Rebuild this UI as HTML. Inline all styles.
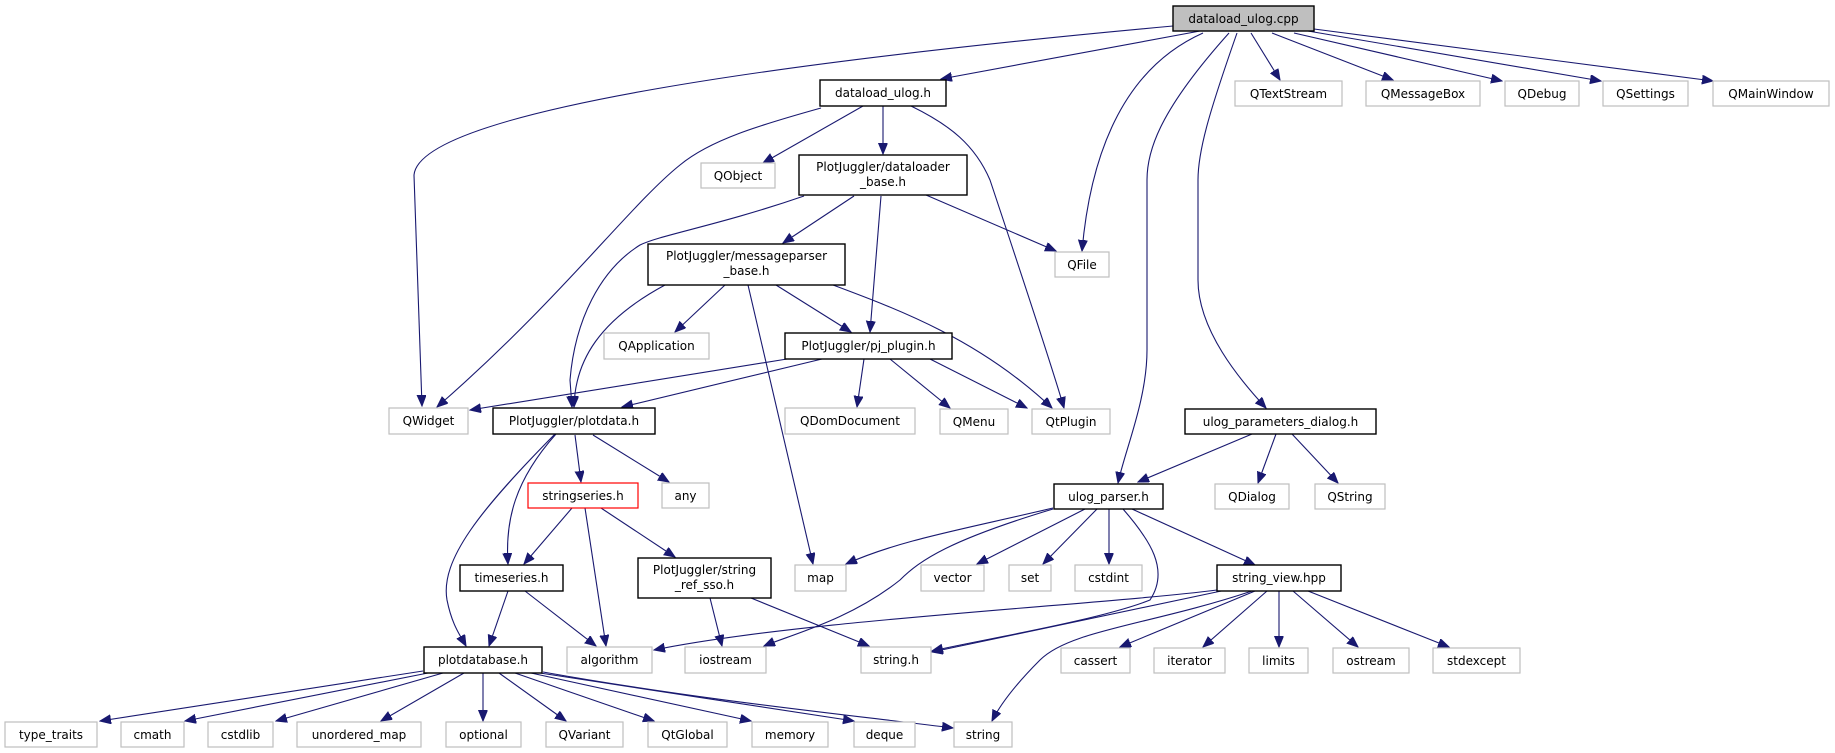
<!DOCTYPE html>
<html><head><meta charset="utf-8"><style>
html,body{margin:0;padding:0;background:#fff;}
svg{display:block;}
text{font-family:"DejaVu Sans","Liberation Sans",sans-serif;font-size:12px;fill:#000;}
.e{fill:none;stroke:#191970;stroke-width:1.1;}
.g{fill:#fff;stroke:#bfbfbf;stroke-width:1.2;}
.b{fill:#fff;stroke:#000;stroke-width:1.4;}
</style></head><body>
<svg width="1835" height="753" viewBox="0 0 1835 753" xmlns="http://www.w3.org/2000/svg">
<defs>
<marker id="a" markerUnits="userSpaceOnUse" markerWidth="12" markerHeight="10" refX="11" refY="4.5" orient="auto">
<path d="M0,0 L11,4.5 L0,9 Z" fill="#191970" stroke="#191970"/>
</marker>
</defs>
<g marker-end="url(#a)">
<!-- from cpp -->
<path class="e" d="M1173,26 C800,60 420,110 414,175 L422,406"/>
<path class="e" d="M1200,31 L941,79"/>
<path class="e" d="M1203,33 C1120,70 1090,160 1082,251"/>
<path class="e" d="M1229,33 C1160,110 1147,150 1147,180 L1147,350 C1147,400 1125,450 1118,483"/>
<path class="e" d="M1237,33 C1210,110 1198,150 1198,180 L1198,280 C1198,330 1240,380 1266,408"/>
<path class="e" d="M1251,33 L1280,80"/>
<path class="e" d="M1272,33 L1393,80"/>
<path class="e" d="M1294,33 L1502,81"/>
<path class="e" d="M1302,30 L1601,81"/>
<path class="e" d="M1314,29 L1713,81"/>
<!-- dataload_ulog.h -->
<path class="e" d="M821,108 C760,125 710,140 680,165 C630,205 560,300 437,407"/>
<path class="e" d="M863,106 L763,163"/>
<path class="e" d="M883,106 L883,154"/>
<path class="e" d="M911,106 C950,125 975,145 990,180 C1010,240 1050,360 1064,408"/>
<!-- dataloader_base.h -->
<path class="e" d="M804,196 C720,225 660,235 640,245 C600,270 575,320 570,380 L572,407"/>
<path class="e" d="M854,196 L783,243"/>
<path class="e" d="M881,196 L870,332"/>
<path class="e" d="M926,195 L1056,251"/>
<!-- messageparser_base.h -->
<path class="e" d="M665,285 C600,320 575,360 574,407"/>
<path class="e" d="M725,285 L675,332"/>
<path class="e" d="M748,285 L813,564"/>
<path class="e" d="M776,285 L851,332"/>
<path class="e" d="M833,285 C900,310 980,340 1052,408"/>
<!-- pj_plugin.h -->
<path class="e" d="M787,359 L470,410"/>
<path class="e" d="M822,359 L622,407"/>
<path class="e" d="M864,359 L857,407"/>
<path class="e" d="M890,359 L950,408"/>
<path class="e" d="M930,359 L1027,408"/>
<!-- plotdata.h -->
<path class="e" d="M555,434 C480,510 440,560 447,600 C452,625 460,635 466,646"/>
<path class="e" d="M556,434 C515,480 505,520 508,564"/>
<path class="e" d="M575,435 L581,482"/>
<path class="e" d="M593,435 L669,482"/>
<!-- stringseries.h -->
<path class="e" d="M572,508 L524,564"/>
<path class="e" d="M585,508 L606,646"/>
<path class="e" d="M601,508 L675,557"/>
<!-- timeseries.h -->
<path class="e" d="M508,591 L489,646"/>
<path class="e" d="M525,591 L596,646"/>
<!-- string_ref_sso.h -->
<path class="e" d="M710,598 L722,646"/>
<path class="e" d="M751,598 L869,646"/>
<!-- plotdatabase.h -->
<path class="e" d="M423,671 L100,721"/>
<path class="e" d="M428,673 L185,721"/>
<path class="e" d="M443,673 L276,721"/>
<path class="e" d="M464,673 L381,721"/>
<path class="e" d="M483,673 L483,721"/>
<path class="e" d="M499,673 L566,721"/>
<path class="e" d="M515,673 L654,721"/>
<path class="e" d="M531,673 L751,721"/>
<path class="e" d="M540,673 L854,721"/>
<path class="e" d="M543,672 C700,700 850,715 953,728"/>
<!-- ulog_parameters_dialog.h -->
<path class="e" d="M1252,434 L1138,482"/>
<path class="e" d="M1276,434 L1258,483"/>
<path class="e" d="M1292,434 L1338,483"/>
<!-- ulog_parser.h -->
<path class="e" d="M1053,508 C960,530 900,540 846,564"/>
<path class="e" d="M1053,509 C950,540 920,560 900,580 C850,620 790,635 764,646"/>
<path class="e" d="M1085,509 L977,564"/>
<path class="e" d="M1097,509 L1043,564"/>
<path class="e" d="M1109,509 L1109,564"/>
<path class="e" d="M1123,509 C1150,540 1170,570 1150,600 C1100,620 980,640 932,651"/>
<path class="e" d="M1132,509 L1255,565"/>
<!-- string_view.hpp -->
<path class="e" d="M1217,590 C1100,605 800,620 654,650"/>
<path class="e" d="M1226,590 L932,652"/>
<path class="e" d="M1252,591 C1150,625 1070,630 1040,660 C1015,685 1000,705 992,721"/>
<path class="e" d="M1255,591 L1120,647"/>
<path class="e" d="M1267,591 L1203,647"/>
<path class="e" d="M1279,591 L1279,647"/>
<path class="e" d="M1293,591 L1358,647"/>
<path class="e" d="M1308,591 L1449,647"/>
</g>

<!-- nodes -->
<rect x="1173" y="6" width="141" height="25" fill="#bfbfbf" stroke="#000" stroke-width="1.4"/><text x="1243.5" y="23" text-anchor="middle">dataload_ulog.cpp</text>

<rect class="b" x="820" y="80" width="126" height="26"/><text x="883" y="97" text-anchor="middle">dataload_ulog.h</text>
<rect class="g" x="1235" y="81" width="107" height="25"/><text x="1288.5" y="98" text-anchor="middle">QTextStream</text>
<rect class="g" x="1366" y="81" width="114" height="25"/><text x="1423" y="98" text-anchor="middle">QMessageBox</text>
<rect class="g" x="1505" y="81" width="74" height="25"/><text x="1542" y="98" text-anchor="middle">QDebug</text>
<rect class="g" x="1603" y="81" width="85" height="25"/><text x="1645.5" y="98" text-anchor="middle">QSettings</text>
<rect class="g" x="1713" y="81" width="116" height="25"/><text x="1771" y="98" text-anchor="middle">QMainWindow</text>

<rect class="g" x="701" y="163" width="74" height="25"/><text x="738" y="180" text-anchor="middle">QObject</text>
<rect class="b" x="799" y="155" width="168" height="40"/><text x="883" y="171" text-anchor="middle">PlotJuggler/dataloader</text><text x="883" y="186" text-anchor="middle">_base.h</text>

<rect class="b" x="648" y="244" width="197" height="41"/><text x="746.5" y="260" text-anchor="middle">PlotJuggler/messageparser</text><text x="746.5" y="275" text-anchor="middle">_base.h</text>
<rect class="g" x="1055" y="252" width="54" height="25"/><text x="1082" y="269" text-anchor="middle">QFile</text>

<rect class="g" x="604" y="333" width="105" height="26"/><text x="656.5" y="350" text-anchor="middle">QApplication</text>
<rect class="b" x="785" y="333" width="167" height="26"/><text x="868.5" y="350" text-anchor="middle">PlotJuggler/pj_plugin.h</text>

<rect class="g" x="389" y="408" width="79" height="26"/><text x="428.5" y="425" text-anchor="middle">QWidget</text>
<rect class="b" x="493" y="408" width="162" height="26"/><text x="574" y="425" text-anchor="middle">PlotJuggler/plotdata.h</text>
<rect class="g" x="785" y="408" width="130" height="26"/><text x="850" y="425" text-anchor="middle">QDomDocument</text>
<rect class="g" x="940" y="409" width="68" height="25"/><text x="974" y="426" text-anchor="middle">QMenu</text>
<rect class="g" x="1032" y="409" width="78" height="25"/><text x="1071" y="426" text-anchor="middle">QtPlugin</text>
<rect class="b" x="1185" y="409" width="191" height="25"/><text x="1280.5" y="426" text-anchor="middle">ulog_parameters_dialog.h</text>

<rect x="528" y="483" width="110" height="25" fill="#fff" stroke="#ff0000" stroke-width="1.2"/><text x="583" y="500" text-anchor="middle">stringseries.h</text>
<rect class="g" x="662" y="483" width="47" height="25"/><text x="685.5" y="500" text-anchor="middle">any</text>
<rect class="b" x="1054" y="484" width="109" height="25"/><text x="1108.5" y="501" text-anchor="middle">ulog_parser.h</text>
<rect class="g" x="1215" y="484" width="74" height="25"/><text x="1252" y="501" text-anchor="middle">QDialog</text>
<rect class="g" x="1315" y="484" width="70" height="25"/><text x="1350" y="501" text-anchor="middle">QString</text>

<rect class="b" x="460" y="565" width="103" height="26"/><text x="511.5" y="582" text-anchor="middle">timeseries.h</text>
<rect class="b" x="638" y="558" width="133" height="40"/><text x="704.5" y="574" text-anchor="middle">PlotJuggler/string</text><text x="704.5" y="589" text-anchor="middle">_ref_sso.h</text>
<rect class="g" x="795" y="565" width="51" height="26"/><text x="820.5" y="582" text-anchor="middle">map</text>
<rect class="g" x="921" y="565" width="63" height="26"/><text x="952.5" y="582" text-anchor="middle">vector</text>
<rect class="g" x="1009" y="565" width="42" height="26"/><text x="1030" y="582" text-anchor="middle">set</text>
<rect class="g" x="1075" y="565" width="67" height="26"/><text x="1108.5" y="582" text-anchor="middle">cstdint</text>
<rect class="b" x="1217" y="565" width="124" height="26"/><text x="1279" y="582" text-anchor="middle">string_view.hpp</text>

<rect class="b" x="424" y="647" width="118" height="26"/><text x="483" y="664" text-anchor="middle">plotdatabase.h</text>
<rect class="g" x="567" y="647" width="85" height="26"/><text x="609.5" y="664" text-anchor="middle">algorithm</text>
<rect class="g" x="685" y="647" width="81" height="26"/><text x="725.5" y="664" text-anchor="middle">iostream</text>
<rect class="g" x="861" y="647" width="70" height="26"/><text x="896" y="664" text-anchor="middle">string.h</text>
<rect class="g" x="1061" y="648" width="69" height="25"/><text x="1095.5" y="665" text-anchor="middle">cassert</text>
<rect class="g" x="1154" y="648" width="71" height="25"/><text x="1189.5" y="665" text-anchor="middle">iterator</text>
<rect class="g" x="1249" y="648" width="59" height="25"/><text x="1278.5" y="665" text-anchor="middle">limits</text>
<rect class="g" x="1333" y="648" width="76" height="25"/><text x="1371" y="665" text-anchor="middle">ostream</text>
<rect class="g" x="1433" y="648" width="87" height="25"/><text x="1476.5" y="665" text-anchor="middle">stdexcept</text>

<rect class="g" x="5" y="722" width="92" height="25"/><text x="51" y="739" text-anchor="middle">type_traits</text>
<rect class="g" x="121" y="722" width="63" height="25"/><text x="152.5" y="739" text-anchor="middle">cmath</text>
<rect class="g" x="208" y="722" width="65" height="25"/><text x="240.5" y="739" text-anchor="middle">cstdlib</text>
<rect class="g" x="297" y="722" width="124" height="25"/><text x="359" y="739" text-anchor="middle">unordered_map</text>
<rect class="g" x="446" y="722" width="75" height="25"/><text x="483.5" y="739" text-anchor="middle">optional</text>
<rect class="g" x="546" y="722" width="77" height="25"/><text x="584.5" y="739" text-anchor="middle">QVariant</text>
<rect class="g" x="648" y="722" width="79" height="25"/><text x="687.5" y="739" text-anchor="middle">QtGlobal</text>
<rect class="g" x="752" y="722" width="76" height="25"/><text x="790" y="739" text-anchor="middle">memory</text>
<rect class="g" x="854" y="722" width="61" height="25"/><text x="884.5" y="739" text-anchor="middle">deque</text>
<rect class="g" x="954" y="722" width="58" height="25"/><text x="983" y="739" text-anchor="middle">string</text>
</svg>
</body></html>
